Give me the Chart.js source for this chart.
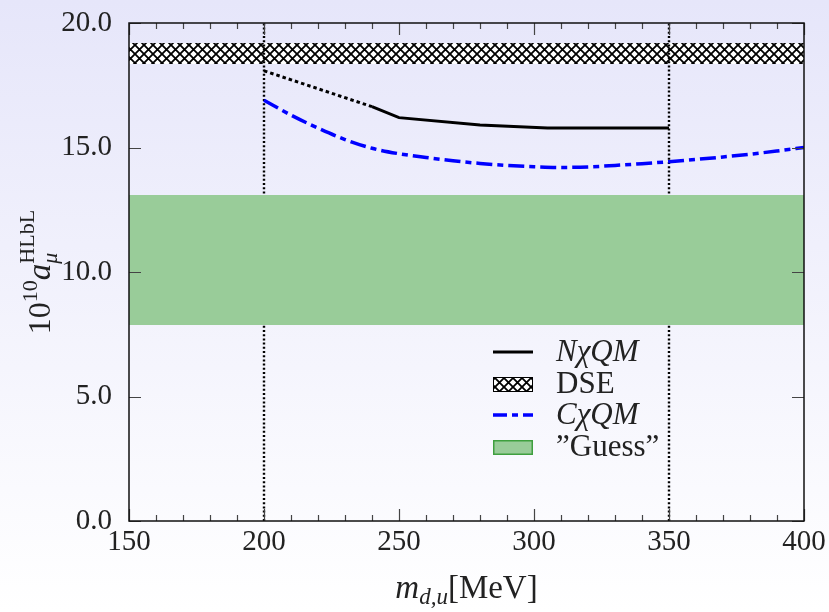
<!DOCTYPE html>
<html>
<head>
<meta charset="utf-8">
<script src="https://cdn.jsdelivr.net/npm/chart.js@4.4.1/dist/chart.umd.min.js"></script>
<style>
    html, body { margin: 0; padding: 0; }
    body { width: 829px; height: 612px; overflow: hidden; background: linear-gradient(#e6e6fa, #ffffff); }
    canvas { display: block; }
</style>
</head>
<body>
<canvas id="hlblChart" width="829" height="612"></canvas>
<script>
// ==== DATA ====
const xTickValues = [150, 200, 250, 300, 350, 400];
const xMinorStep = 10;
const yTickValues = [0, 5, 10, 15, 20];

const nxqmMass = [200, 240, 250, 280, 305, 350];
const nxqmValues = [18.08, 16.64, 16.2, 15.9, 15.78, 15.78];
const nxqmDottedUntil = 240;

const cxqmMass = [200, 210, 220, 230, 240, 250, 260, 270, 280, 290, 300, 310, 320, 330, 340, 350, 360, 370, 380, 390, 400];
const cxqmValues = [16.9, 16.3, 15.78, 15.32, 14.97, 14.75, 14.6, 14.47, 14.36, 14.28, 14.23, 14.2, 14.22, 14.28, 14.35, 14.43, 14.52, 14.62, 14.73, 14.86, 15.0];

const dseBand = [18.35, 19.2];
const guessBand = [7.87, 13.09];
const markerMasses = [200, 350];

const legendLabels = ['N\u03C7QM', 'DSE', 'C\u03C7QM', '\u201DGuess\u201D'];

const SERIF = '"Liberation Serif", "Times New Roman", serif';

function makeHatch(ctx) {
    const n = 9;
    const c = document.createElement('canvas');
    c.width = n; c.height = n;
    const g = c.getContext('2d');
    g.fillStyle = '#fff';
    g.fillRect(0, 0, n, n);
    g.strokeStyle = '#000';
    g.lineWidth = 1.8;
    g.beginPath();
    g.moveTo(-1, -1); g.lineTo(n + 1, n + 1);
    g.moveTo(n + 1, -1); g.lineTo(-1, n + 1);
    g.stroke();
    return ctx.createPattern(c, 'repeat');
}

const canvas = document.getElementById('hlblChart');
const ctx = canvas.getContext('2d');
const hatch = makeHatch(ctx);

const toPoints = (xs, ys) => xs.map((x, i) => ({ x: x, y: ys[i] }));
const xMin = xTickValues[0];
const xMax = xTickValues[xTickValues.length - 1];
const yMin = yTickValues[0];
const yMax = yTickValues[yTickValues.length - 1];

const datasets = [
    {
        label: legendLabels[0],
        data: toPoints(nxqmMass, nxqmValues),
        borderColor: '#000',
        borderWidth: 3,
        pointRadius: 0,
        fill: false,
        order: 1,
        segment: {
            borderDash: c => c.p1.parsed.x <= nxqmDottedUntil ? [3.5, 3] : undefined
        }
    },
    {
        label: legendLabels[2],
        data: toPoints(cxqmMass, cxqmValues),
        borderColor: '#0000ff',
        borderWidth: 3.5,
        borderDash: [16, 5, 6, 5],
        pointRadius: 0,
        fill: false,
        cubicInterpolationMode: 'monotone',
        order: 2
    },
    {
        label: legendLabels[3],
        data: [{ x: xMin, y: guessBand[1] }, { x: xMax, y: guessBand[1] }],
        borderColor: 'transparent',
        borderWidth: 0,
        backgroundColor: '#99cc99',
        pointRadius: 0,
        fill: { value: guessBand[0] },
        order: 3
    }
];

markerMasses.forEach(m => {
    datasets.push({
        label: 'marker',
        data: [{ x: m, y: yMin }, { x: m, y: yMax }],
        borderColor: '#000',
        borderWidth: 2.4,
        borderDash: [2, 2.2],
        pointRadius: 0,
        fill: false,
        order: 4
    });
});

datasets.push({
    label: legendLabels[1],
    data: [{ x: xMin, y: dseBand[1] }, { x: xMax, y: dseBand[1] }],
    borderColor: 'transparent',
    borderWidth: 0,
    backgroundColor: hatch,
    pointRadius: 0,
    fill: { value: dseBand[0] },
    order: 5
});

// ==== FRAME + INWARD TICKS ====
const framePlugin = {
    id: 'frame',
    afterDatasetsDraw(chart) {
        const { ctx, chartArea: a, scales: { x, y } } = chart;
        ctx.save();
        ctx.strokeStyle = '#444';
        ctx.lineWidth = 1.2;
        ctx.beginPath();
        for (let v = xMin; v <= xMax; v += xMinorStep) {
            const px = Math.round(x.getPixelForValue(v)) + 0.5;
            const len = xTickValues.includes(v) ? 12 : 6;
            ctx.moveTo(px, a.bottom); ctx.lineTo(px, a.bottom - len);
            ctx.moveTo(px, a.top); ctx.lineTo(px, a.top + len);
        }
        yTickValues.forEach(v => {
            const py = Math.round(y.getPixelForValue(v)) + 0.5;
            ctx.moveTo(a.left, py); ctx.lineTo(a.left + 12, py);
            ctx.moveTo(a.right, py); ctx.lineTo(a.right - 12, py);
        });
        ctx.stroke();
        ctx.strokeStyle = '#111';
        ctx.lineWidth = 1.5;
        ctx.strokeRect(a.left, a.top, a.right - a.left, a.bottom - a.top);
        ctx.restore();
    }
};

// ==== LEGEND (inside plot) ====
const legendPlugin = {
    id: 'innerLegend',
    afterDraw(chart) {
        const ctx = chart.ctx;
        const rowsY = [352, 384, 415, 447];
        const x0 = 493, w = 40, tx = 556;
        ctx.save();
        // N chi QM
        ctx.strokeStyle = '#000';
        ctx.lineWidth = 3;
        ctx.beginPath();
        ctx.moveTo(x0, rowsY[0]); ctx.lineTo(x0 + w, rowsY[0]);
        ctx.stroke();
        // DSE
        ctx.fillStyle = hatch;
        ctx.fillRect(x0, rowsY[1] - 7, w, 15);
        ctx.strokeStyle = '#000';
        ctx.lineWidth = 1;
        ctx.strokeRect(x0 + 0.5, rowsY[1] - 6.5, w - 1, 14);
        // C chi QM
        ctx.strokeStyle = '#0000ff';
        ctx.lineWidth = 3.5;
        ctx.setLineDash([14, 5, 6, 5]);
        ctx.beginPath();
        ctx.moveTo(x0, rowsY[2]); ctx.lineTo(x0 + w, rowsY[2]);
        ctx.stroke();
        ctx.setLineDash([]);
        // Guess
        ctx.fillStyle = '#99cc99';
        ctx.fillRect(x0, rowsY[3] - 7, w, 15);
        ctx.strokeStyle = '#3f9f3f';
        ctx.lineWidth = 1.5;
        ctx.strokeRect(x0 + 0.75, rowsY[3] - 6.25, w - 1.5, 13.5);

        ctx.fillStyle = '#222';
        ctx.textBaseline = 'middle';
        ctx.textAlign = 'left';
        legendLabels.forEach((t, i) => {
            ctx.font = (i % 2 === 0 ? 'italic ' : '') + '31px ' + SERIF;
            ctx.fillText(t, tx, rowsY[i] + 1);
        });
        ctx.restore();
    }
};

// ==== AXIS TITLES ====
function setFont(ctx, p) {
    ctx.font = (p.italic ? 'italic ' : '') + p.size + 'px ' + SERIF;
}

function drawParts(ctx, parts, startX, baseY) {
    let cx = startX;
    parts.forEach(p => {
        if (p.stack) {
            let wMax = 0;
            p.stack.forEach(s => {
                setFont(ctx, s);
                ctx.fillText(s.t, cx, baseY + s.dy);
                wMax = Math.max(wMax, ctx.measureText(s.t).width);
            });
            cx += wMax;
        } else {
            setFont(ctx, p);
            ctx.fillText(p.t, cx, baseY + (p.dy || 0));
            cx += ctx.measureText(p.t).width;
        }
    });
}

function measureParts(ctx, parts) {
    let w = 0;
    parts.forEach(p => {
        if (p.stack) {
            let m = 0;
            p.stack.forEach(s => {
                setFont(ctx, s);
                m = Math.max(m, ctx.measureText(s.t).width);
            });
            w += m;
        } else {
            setFont(ctx, p);
            w += ctx.measureText(p.t).width;
        }
    });
    return w;
}

const titlePlugin = {
    id: 'axisTitles',
    afterDraw(chart) {
        const { ctx, chartArea: a } = chart;
        ctx.save();
        ctx.fillStyle = '#222';
        ctx.textBaseline = 'alphabetic';
        ctx.textAlign = 'left';

        const xParts = [
            { t: 'm', italic: true, size: 33 },
            { t: 'd,u', italic: true, size: 23, dy: 6 },
            { t: '[MeV]', size: 33 }
        ];
        const xw = measureParts(ctx, xParts);
        drawParts(ctx, xParts, (a.left + a.right) / 2 - xw / 2, 598);

        const yParts = [
            { t: '10', size: 32 },
            { t: '10', size: 22, dy: -13 },
            { t: 'a', italic: true, size: 33 },
            { stack: [
                { t: '\u03BC', italic: true, size: 22, dy: 7 },
                { t: 'HLbL', size: 22, dy: -16 }
            ] }
        ];
        const yw = measureParts(ctx, yParts);
        ctx.translate(50, (a.top + a.bottom) / 2);
        ctx.rotate(-Math.PI / 2);
        drawParts(ctx, yParts, -yw / 2, 0);
        ctx.restore();
    }
};

new Chart(ctx, {
    type: 'line',
    data: { datasets: datasets },
    options: {
        responsive: false,
        animation: false,
        layout: { padding: { top: 23, right: 25, left: 0, bottom: 0 } },
        plugins: {
            legend: { display: false },
            tooltip: { enabled: false }
        },
        scales: {
            x: {
                type: 'linear',
                min: xMin,
                max: xMax,
                afterBuildTicks: s => { s.ticks = xTickValues.map(v => ({ value: v })); },
                afterFit: s => { s.height = 91; s.paddingLeft = 0; s.paddingRight = 0; },
                grid: { display: false },
                border: { display: false },
                ticks: {
                    color: '#222',
                    padding: -4,
                    font: { family: SERIF, size: 29 }
                }
            },
            y: {
                type: 'linear',
                min: yMin,
                max: yMax,
                afterBuildTicks: s => { s.ticks = yTickValues.map(v => ({ value: v })); },
                afterFit: s => { s.width = 129; s.paddingTop = 0; s.paddingBottom = 0; },
                grid: { display: false },
                border: { display: false },
                ticks: {
                    color: '#222',
                    padding: 9,
                    font: { family: SERIF, size: 29 },
                    callback: v => Number(v).toFixed(1)
                }
            }
        }
    },
    plugins: [framePlugin, legendPlugin, titlePlugin]
});
</script>
</body>
</html>
